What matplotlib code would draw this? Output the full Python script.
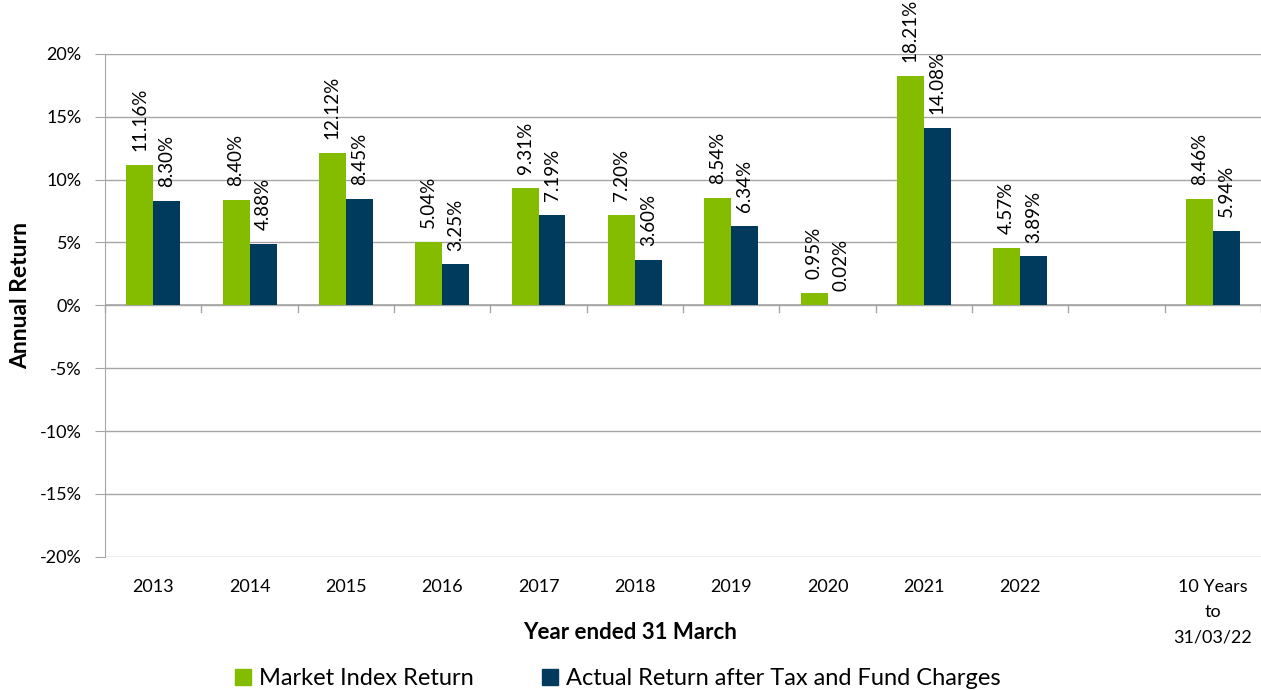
import matplotlib.pyplot as plt
import numpy as np

categories = ["2013", "2014", "2015", "2016", "2017", "2018", "2019", "2020",
              "2021", "2022", "", "10 Years\nto\n31/03/22"]
market = [11.16, 8.40, 12.12, 5.04, 9.31, 7.20, 8.54, 0.95, 18.21, 4.57, None, 8.46]
actual = [8.30, 4.88, 8.45, 3.25, 7.19, 3.60, 6.34, 0.02, 14.08, 3.89, None, 5.94]
yticks = [-20, -15, -10, -5, 0, 5, 10, 15, 20]

green = "#84BD00"
navy = "#003A5D"
grid = "#A6A6A6"

plt.rcParams["font.family"] = ["Lato", "DejaVu Sans"]

fig = plt.figure(figsize=(12.61, 6.9), dpi=100)
ax = fig.add_axes([0.0833, 0.193, 0.9167, 0.729])

x = np.arange(len(categories))
w = 0.28
for i in range(len(categories)):
    if market[i] is None:
        continue
    for dx, v, c in [(-w / 2, market[i], green), (w / 2, actual[i], navy)]:
        ax.bar(x[i] + dx, v, w, color=c, zorder=3)
        ax.annotate(f"{v:.2f}%", (x[i] + dx, v), xytext=(0, 10),
                    textcoords="offset points", rotation=90,
                    ha="center", va="bottom", fontsize=13.5)

ax.set_xlim(-0.5, len(categories) - 0.5)
ax.set_ylim(-20, 20)
ax.set_yticks(yticks)
ax.set_yticklabels([f"{t}%" for t in yticks], fontsize=13)
ax.yaxis.grid(True, color=grid, linewidth=1, zorder=0)
ax.tick_params(axis="y", length=7, color=grid, pad=10)

for s in ["top", "right", "bottom"]:
    ax.spines[s].set_visible(False)
ax.spines["left"].set_color(grid)

# category axis at zero with separators
ax.axhline(0, color=grid, linewidth=1.2, zorder=2)
for b in np.arange(len(categories) + 1) - 0.5:
    ax.plot([b, b], [0, -0.55], color=grid, linewidth=1, zorder=2, clip_on=False)

ax.set_xticks(x)
ax.set_xticklabels(categories, fontsize=13, va="top", linespacing=1.7)
ax.tick_params(axis="x", length=0, pad=16)

fig.text(0.5, 0.083, "Year ended 31 March", ha="center", va="center",
         fontsize=16, fontweight="bold")
fig.text(0.016, 0.572, "Annual Return", ha="center", va="center", rotation=90,
         fontsize=16.5, fontweight="bold")

handles = [plt.Rectangle((0, 0), 1, 1, color=green),
           plt.Rectangle((0, 0), 1, 1, color=navy)]
fig.legend(handles, ["Market Index Return", "Actual Return after Tax and Fund Charges"],
           loc="center", bbox_to_anchor=(0.49, 0.016), ncol=2, frameon=False,
           fontsize=17, handlelength=0.65, handleheight=0.65, handletextpad=0.35,
           columnspacing=2.9, borderpad=0)

fig.savefig("out.png", dpi=100)
